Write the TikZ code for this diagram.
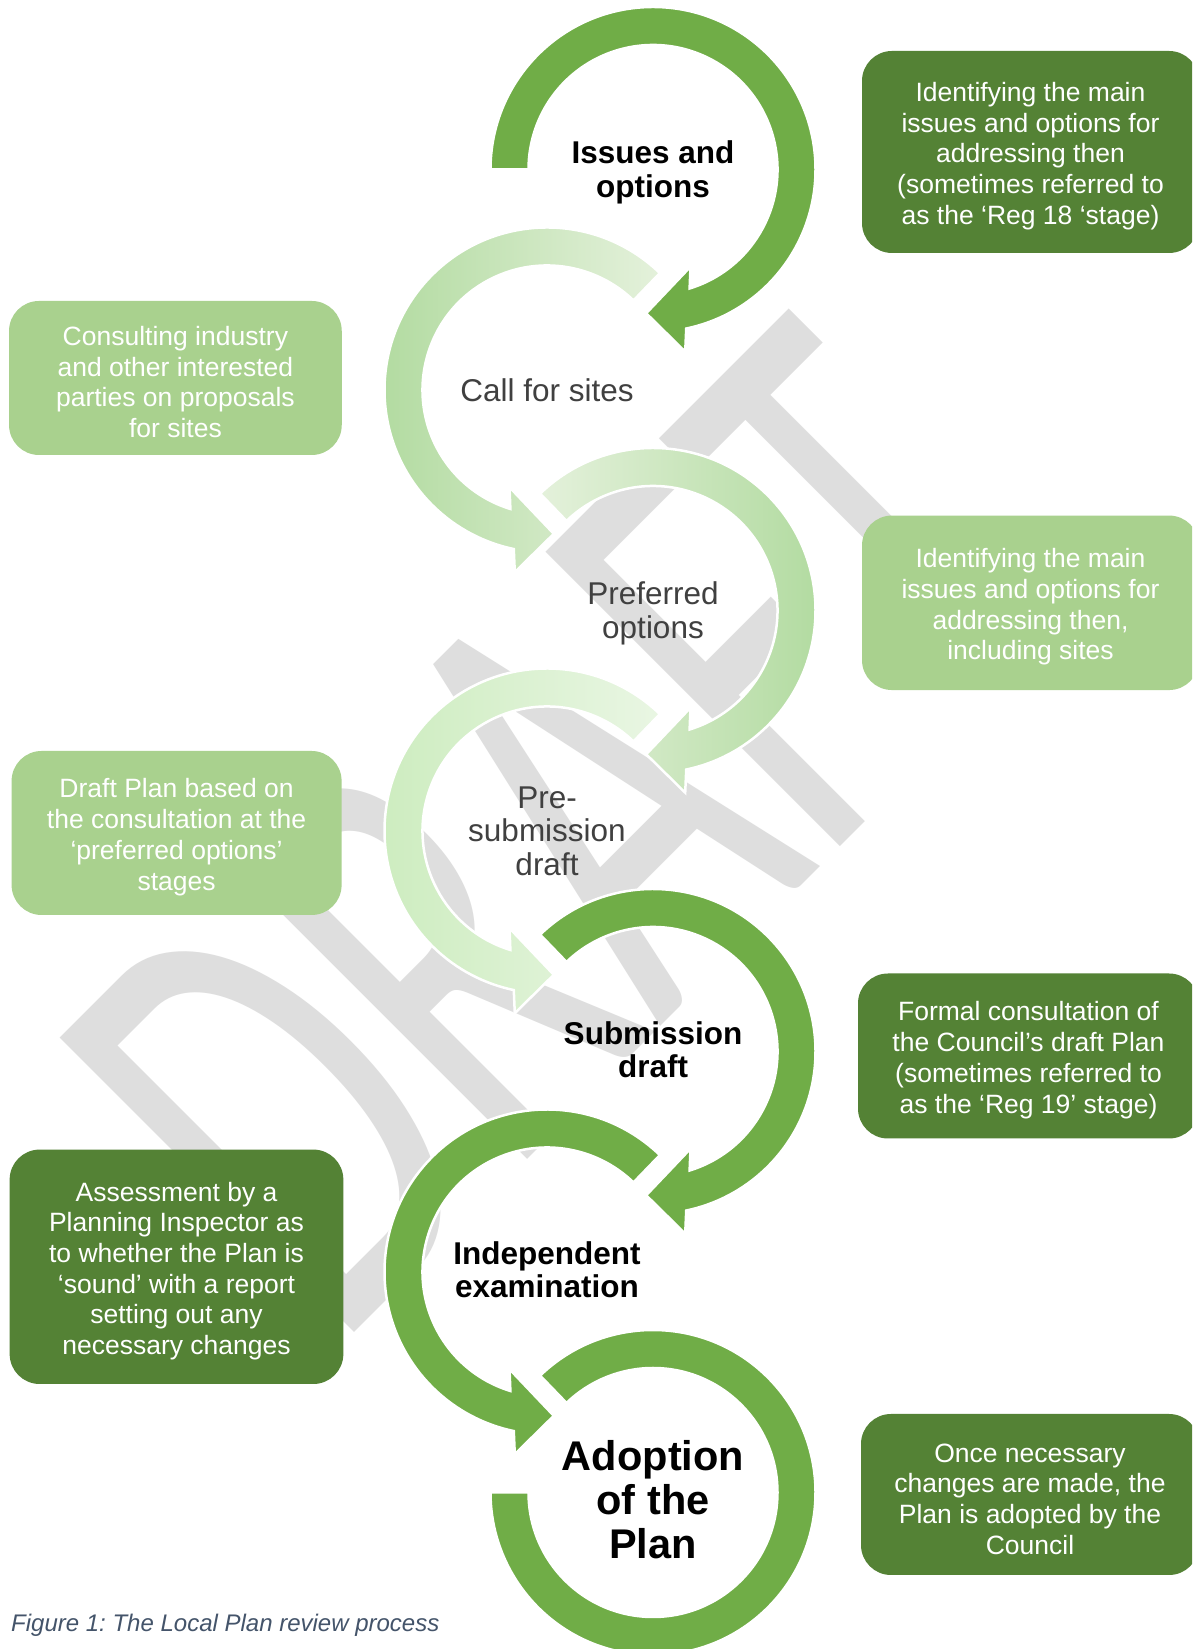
\documentclass[tikz,border=0pt]{standalone}
\usepackage{fontspec}
\setmainfont{Liberation Sans}
\newfontfamily\wmfont{Carlito}
\frenchspacing
\definecolor{arcgreen}{RGB}{112,173,71}
\definecolor{boxdark}{RGB}{84,130,53}
\definecolor{boxlight}{RGB}{169,209,142}
\definecolor{wmgray}{RGB}{222,222,222}
\definecolor{txtgray}{RGB}{64,64,64}
\definecolor{capcol}{RGB}{68,84,106}
\definecolor{gA}{RGB}{176,218,158}
\definecolor{gB}{RGB}{228,241,219}
\definecolor{gC}{RGB}{204,236,190}
\definecolor{gD}{RGB}{233,246,227}
\newcommand\cwarc[1]{(#1:162.5) arc[start angle=#1, end angle=-78.2, radius=162.5] -- (32.2,-182.2) -- (-6.8,-143.8) -- (37.5,-97.2) -- (-72.9:124.5) arc[start angle=-72.9, end angle=#1, radius=124.5] -- cycle}
\newcommand\ccwarc[1]{(#1:162.5) arc[start angle=#1, end angle=258.2, radius=162.5] -- (-32.2,-182.2) -- (6.8,-143.8) -- (-37.5,-97.2) -- (252.9:124.5) arc[start angle=252.9, end angle=#1, radius=124.5] -- cycle}
\newcommand\tstrut{\rule{0pt}{27.5pt}}
\begin{document}
\begin{tikzpicture}[x=1pt,y=1pt,
  arcfill/.style={fill=arcgreen, draw=white, line width=2.5},
  arcshade/.style={draw=white, line width=2.5},
  boldlabel/.style={inner sep=0, align=center, font=\bfseries\fontsize{31.5}{33.5}\selectfont, text=black},
  greylabel/.style={inner sep=0, align=center, font=\fontsize{31.5}{33.5}\selectfont, text=txtgray},
  sidebox/.style={rounded corners=30, inner sep=0, align=center, text=white, font=\fontsize{26.5}{30.7}\selectfont},
  darkbox/.style={sidebox, fill=boxdark},
  lightbox/.style={sidebox, fill=boxlight}]
\clip (0,0) rectangle (1192,1649);
\fill[white] (0,0) rectangle (1192,1649);
% watermark
\node[font=\wmfont\fontsize{649}{649}\selectfont, text=wmgray, rotate=45, anchor=base, inner sep=0] (wm) at (711,673) {\scalebox{0.61}[1]{DRAFT}};
% arcs
\begin{scope}[shift={(653,1479.5)}]
  \filldraw[arcfill] \cwarc{180};
\end{scope}
\begin{scope}[shift={(547,1259)}]
  \shadedraw[arcshade, left color=gA, right color=gB] \ccwarc{46};
\end{scope}
\begin{scope}[shift={(653,1038.5)}]
  \shadedraw[arcshade, left color=gB, right color=gA] \cwarc{134};
\end{scope}
\begin{scope}[shift={(547,818)}]
  \shadedraw[arcshade, left color=gC, right color=gD] \ccwarc{46};
\end{scope}
\begin{scope}[shift={(653,597.5)}]
  \filldraw[arcfill] \cwarc{134};
\end{scope}
\begin{scope}[shift={(547,377)}]
  \filldraw[arcfill] \ccwarc{46};
\end{scope}
\begin{scope}[shift={(653,156.5)}]
  \filldraw[arcfill] (134:162.5) arc[start angle=134, end angle=-180, radius=162.5] -- (-180:124.5) arc[start angle=-180, end angle=134, radius=124.5] -- cycle;
\end{scope}
% circle labels
\node[boldlabel] (s1) at (653,1476.5) {Issues and\\options};
\node[greylabel] (s2) at (547,1259) {Call for sites};
\node[greylabel] (s3) at (653,1035.5) {Preferred\\options};
\node[greylabel] (s4) at (547,818) {Pre-\\submission\\draft};
\node[boldlabel] (s5) at (653,599.5) {Submission\\draft};
\node[boldlabel] (s6) at (547,379.5) {Independent\\examination};
\node[boldlabel, font=\bfseries\fontsize{41.5}{44}\selectfont] (s7) at (653,149) {Adoption\\of the\\Plan};
% side boxes
\node[darkbox, minimum width=337, minimum height=202] (b1) at (1030.5,1497) {\tstrut Identifying the main\\issues and options for\\addressing then\\(sometimes referred to\\as the ‘Reg 18 ‘stage)};
\node[lightbox, minimum width=332.7, minimum height=154] (b2) at (175.4,1271) {\tstrut Consulting industry\\and other interested\\parties on proposals\\for sites};
\node[lightbox, minimum width=337, minimum height=174.5] (b3) at (1030.5,1046.2) {\tstrut Identifying the main\\issues and options for\\addressing then,\\including sites};
\node[lightbox, minimum width=330, minimum height=164] (b4) at (176.6,816) {\tstrut Draft Plan based on\\the consultation at the\\‘preferred options’\\stages};
\node[darkbox, minimum width=341, minimum height=165] (b5) at (1028.5,593) {\tstrut Formal consultation of\\the Council’s draft Plan\\(sometimes referred to\\as the ‘Reg 19’ stage)};
\node[darkbox, minimum width=333.7, minimum height=234.4] (b6) at (176.5,382.2) {\tstrut Assessment by a\\Planning Inspector as\\to whether the Plan is\\‘sound’ with a report\\setting out any\\necessary changes};
\node[darkbox, minimum width=338, minimum height=161] (b7) at (1030,154.5) {\tstrut Once necessary\\changes are made, the\\Plan is adopted by the\\Council};
% caption
\node[anchor=base west, inner sep=0, font=\itshape\fontsize{24}{28}\selectfont, text=capcol] (cap) at (11,17) {Figure 1: The Local Plan review process};
\end{tikzpicture}
\end{document}
